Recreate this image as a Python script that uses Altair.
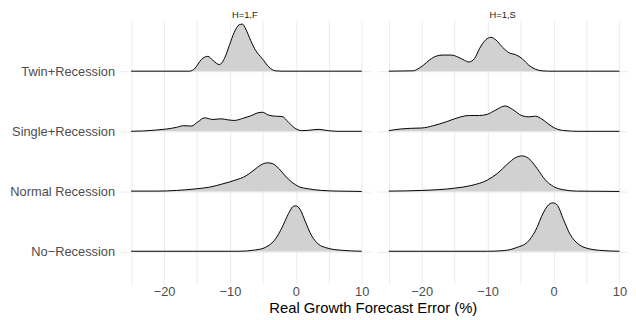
import altair as alt
import pandas as pd

panels = ["H=1,F", "H=1,S"]
categories = ["No−Recession", "Normal Recession", "Single+Recession", "Twin+Recession"]
x_ticks = [-25, -20, -15, -10, -5, 0, 5, 10]
x_title = "Real Growth Forecast Error (%)"

# ---- panel H=1,F : x positions and scaled density (x1000) ----
twin_f_x = [-25, -16.1, -15.35, -14.35, -13.35, -12.6, -11.6, -10.85, -10.1, -9.35, -8.6, -8.1, -7.6, -6.85, -6.1, -5.1, -4.1, -3.1, -2.1, 10]
twin_f_d = [0, 0, 8, 35, 45, 33, 20, 38, 78, 118, 141, 143, 128, 93, 63, 38, 13, 1, 0, 0]

single_f_x = [-25, -23.1, -21.1, -19.6, -18.1, -17.1, -15.85, -14.85, -13.85, -12.6, -11.35, -10.35, -9.35, -8.1, -6.85, -5.6, -5.1, -4.1, -3.1, -2.1, -1.1, -0.1, 0.9, 1.9, 3.4, 4.9, 6.4, 10]
single_f_d = [0, 1, 4, 7, 12, 17, 16, 29, 41, 36, 38, 35, 33, 39, 47, 57, 58, 49, 46, 45, 27, 9, 2, 3, 6, 2, 0, 0]

normal_f_x = [-25, -21.1, -18.1, -15.1, -13.1, -11.1, -9.1, -7.6, -6.35, -5.35, -4.35, -3.6, -2.6, -1.6, -0.6, 0.4, 1.9, 3.9, 6.4, 10]
normal_f_d = [1, 1, 3, 8, 13, 23, 35, 47, 65, 80, 87, 85, 70, 47, 28, 15, 8, 3, 1, 0]

no_f_x = [-25, -15, -8.6, -6.1, -4.6, -3.1, -2.1, -1.1, -0.35, 0, 0.65, 1.4, 2.4, 3.4, 4.9, 6.9, 10]
no_f_d = [1, 1, 1, 5, 13, 38, 73, 116, 138, 139, 128, 93, 48, 23, 10, 4, 1]

# ---- panel H=1,S ----
twin_s_x = [-25, -21.25, -20.75, -19.75, -18.75, -17.75, -16.75, -15.5, -14.5, -13.5, -12.85, -12, -11.25, -10.25, -9.5, -8.75, -7.75, -6.75, -5.75, -4.75, -3.75, -2.75, -1.75, -0.75, 10]
twin_s_d = [0, 1, 5, 18, 35, 46, 49, 49, 43, 33, 28, 38, 68, 96, 103, 95, 73, 56, 50, 38, 18, 6, 1, 0, 0]

single_s_x = [-25, -23.25, -21.75, -20, -18.25, -16.25, -14.25, -12.75, -11.25, -10, -8.75, -7.35, -6.25, -4.75, -3.75, -2.75, -1.75, -0.75, 0.25, 1.75, 3.75, 10]
single_s_d = [2, 7, 9, 10, 17, 29, 43, 48, 48, 52, 65, 77, 67, 47, 44, 46, 37, 22, 9, 2, 0, 0]

normal_s_x = [-25, -20, -15, -12.5, -10, -8.5, -7, -5.75, -4.75, -3.75, -2.5, -1.25, 0, 1.5, 3.5, 10]
normal_s_d = [1, 3, 10, 18, 35, 55, 83, 103, 108, 100, 70, 35, 15, 5, 1, 0]

no_s_x = [-25, -10, -7.5, -5.5, -4, -2.75, -1.5, -0.5, -0.1, 0.5, 1.5, 2.5, 3.75, 5.5, 7.5, 10]
no_s_d = [1, 1, 3, 13, 28, 63, 120, 146, 148, 143, 98, 53, 23, 8, 3, 1]

series = {
    ("H=1,F", "Twin+Recession"): (twin_f_x, twin_f_d),
    ("H=1,F", "Single+Recession"): (single_f_x, single_f_d),
    ("H=1,F", "Normal Recession"): (normal_f_x, normal_f_d),
    ("H=1,F", "No−Recession"): (no_f_x, no_f_d),
    ("H=1,S", "Twin+Recession"): (twin_s_x, twin_s_d),
    ("H=1,S", "Single+Recession"): (single_s_x, single_s_d),
    ("H=1,S", "Normal Recession"): (normal_s_x, normal_s_d),
    ("H=1,S", "No−Recession"): (no_s_x, no_s_d),
}

records = []
for (p, c), (xs, ds) in series.items():
    for xv, dv in zip(xs, ds):
        records.append({"panel": p, "cat": c, "row": categories.index(c) + 1,
                        "x": xv, "dens": dv / 1000.0})
df = pd.DataFrame(records)

RIDGE_SCALE = 5.47  # rows per density unit
GRID = "#ebebeb"
TEXT = "#4d4d4d"

label_list = "[''," + ",".join("'" + c + "'" for c in categories) + "]"


def make_panel(name, show_y):
    yaxis = alt.Axis(values=[1, 2, 3, 4], labelExpr=label_list + "[datum.value]",
                     grid=True, gridColor=GRID, gridWidth=1, ticks=False, domain=False,
                     labels=show_y, labelFontSize=13, labelColor=TEXT, labelPadding=5,
                     minExtent=113 if show_y else 0, maxExtent=113 if show_y else 0,
                     title=None)
    xaxis = alt.Axis(values=x_ticks, labelExpr="datum.value % 10 === 0 ? datum.label : ''",
                     grid=True, gridColor=GRID, gridWidth=1, ticks=False, domain=False,
                     labelFontSize=13, labelColor=TEXT, labelPadding=2.5, labelFlush=False,
                     labelOverlap=False, title=None)
    return (
        alt.Chart(df)
        .transform_filter(alt.datum.panel == name)
        .transform_calculate(top=f"datum.row + datum.dens * {RIDGE_SCALE}")
        .mark_area(color="#d1d1d1", interpolate="monotone", opacity=1,
                   line={"color": "black", "strokeWidth": 1})
        .encode(
            x=alt.X("x:Q", scale=alt.Scale(domain=[-26.75, 11.3], nice=False, zero=False), axis=xaxis),
            y=alt.Y("top:Q", scale=alt.Scale(domain=[0.47, 4.837], nice=False, zero=False), axis=yaxis),
            y2="row:Q",
            detail="cat:N",
        )
        .properties(width=254, height=266,
                    title=alt.TitleParams(name, fontSize=9.5, fontWeight="normal",
                                          color="#1a1a1a", offset=1.5, anchor="middle"))
    )


chart = (
    alt.hconcat(make_panel(panels[0], True), make_panel(panels[1], False), spacing=7)
    .properties(
        title=alt.TitleParams(x_title, orient="bottom", anchor="middle", fontSize=15,
                              fontWeight="normal", color="black", offset=2, dx=56),
        padding={"left": 0, "top": 0, "right": 0, "bottom": 0},
    )
    .configure(font="Liberation Sans")
    .configure_view(stroke=None)
)

chart.save("out.html", embed_options={"renderer": "svg", "actions": False})
